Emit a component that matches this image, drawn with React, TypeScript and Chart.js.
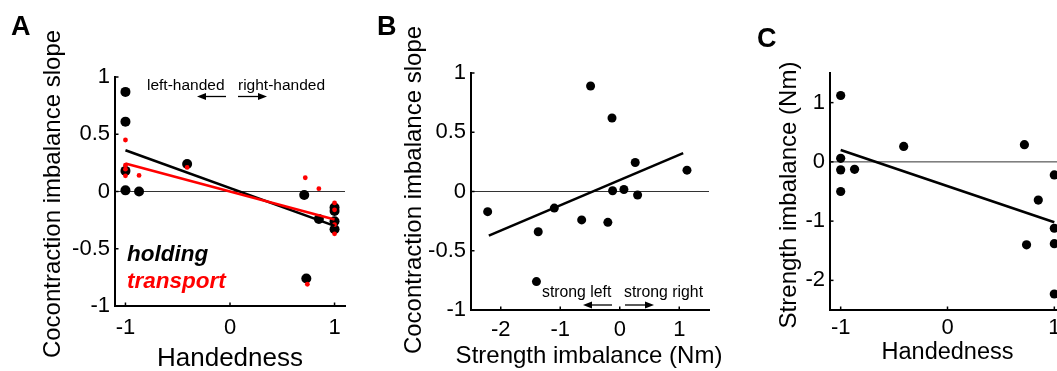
import { useEffect, useRef } from "react";
import { Chart, registerables } from "chart.js";

Chart.register(...registerables);

const FONT = "'Liberation Sans', Arial, Helvetica, sans-serif";
const CANVAS_W = 1100;
const CANVAS_H = 400;

// ---------------- Panel A: cocontraction imbalance slope vs handedness ----------------
const handHoldingA = [-1, -1, -1, -1, -0.87, -0.41, 0.71, 0.73, 0.85, 1, 1, 1, 1];
const slopeHoldingA = [0.87, 0.61, 0.18, 0.01, 0.0, 0.24, -0.03, -0.76, -0.24, -0.14, -0.17, -0.26, -0.33];
const handTransportA = [-1, -1, -1, -1, -0.87, -0.41, 0.72, 0.74, 0.85, 1, 1, 1, 1];
const slopeTransportA = [0.45, 0.23, 0.195, 0.137, 0.14, 0.21, 0.12, -0.81, 0.025, -0.1, -0.16, -0.29, -0.37];
const fitHoldingAx = [-1, 1];
const fitHoldingAy = [0.36, -0.3];
const fitTransportAx = [-1, 1];
const fitTransportAy = [0.244, -0.244];
const xLimA = [-1.1, 1.1];
const yLimA = [-1, 1];
const xTicksA = [-1, 0, 1];
const yTicksA = [-1, -0.5, 0, 0.5, 1];

// ---------------- Panel B: cocontraction imbalance slope vs strength imbalance ----------------
const strengthB = [-2.22, -1.37, -1.4, -1.1, -0.64, -0.49, -0.2, -0.13, -0.12, 0.07, 0.26, 0.3, 1.13];
const slopeB = [-0.17, -0.34, -0.76, -0.14, -0.24, 0.89, -0.26, 0.62, 0.006, 0.017, 0.245, -0.03, 0.18];
const fitBx = [-2.2, 1.066];
const fitBy = [-0.372, 0.324];
const xLimB = [-2.5, 1.5];
const yLimB = [-1, 1];
const xTicksB = [-2, -1, 0, 1];
const yTicksB = [-1, -0.5, 0, 0.5, 1];

// ---------------- Panel C: strength imbalance vs handedness ----------------
const handC = [-1, -1, -1, -1, -0.87, -0.41, 0.72, 0.74, 0.85, 1, 1, 1, 1];
const strengthC = [1.12, 0.06, -0.135, -0.5, -0.125, 0.26, 0.29, -1.4, -0.645, -0.22, -1.12, -1.38, -2.23];
const fitCx = [-1, 1];
const fitCy = [0.2, -1.02];
const xLimC = [-1.1, 1.1];
const yLimC = [-2.5, 1.5];
const xTicksC = [-1, 0, 1];
const yTicksC = [-2, -1, 0, 1];

const pts = (xs: number[], ys: number[]) => xs.map((x, i) => ({ x, y: ys[i] }));

type TextItem = {
  text: string;
  x: number;
  y: number;
  font: string;
  color?: string;
  align?: CanvasTextAlign;
  baseline?: CanvasTextBaseline;
  rotate?: boolean;
};
type Arrow = { x1: number; y1: number; x2: number; y2: number };

type PanelSpec = {
  area: { left: number; top: number; right: number; bottom: number };
  xLim: number[];
  yLim: number[];
  xTicks: number[];
  yTicks: number[];
  xTickPad: number;
  datasets: any[];
  texts: TextItem[];
  arrows: Arrow[];
};

function zeroLine(xLim: number[]) {
  return {
    data: pts(xLim, [0, 0]),
    showLine: true,
    borderColor: "#333333",
    borderWidth: 1,
    pointRadius: 0,
    order: 10,
  };
}
function dots(data: any[], color: string, r: number, order: number) {
  return {
    data,
    showLine: false,
    pointRadius: r,
    pointBackgroundColor: color,
    pointBorderWidth: 0,
    pointBorderColor: color,
    order,
  };
}
function fitLine(data: any[], color: string, order: number) {
  return {
    data,
    showLine: true,
    borderColor: color,
    borderWidth: 2.6,
    pointRadius: 0,
    order,
  };
}

const panelA: PanelSpec = {
  area: { left: 115, top: 77, right: 345, bottom: 306 },
  xLim: xLimA,
  yLim: yLimA,
  xTicks: xTicksA,
  yTicks: yTicksA,
  xTickPad: 9,
  datasets: [
    zeroLine(xLimA),
    dots(pts(handHoldingA, slopeHoldingA), "#000", 5, 4),
    dots(pts(handTransportA, slopeTransportA), "#ff0000", 2.4, 3),
    fitLine(pts(fitHoldingAx, fitHoldingAy), "#000", 2),
    fitLine(pts(fitTransportAx, fitTransportAy), "#ff0000", 1),
  ],
  texts: [
    { text: "A", x: 11, y: 35, font: `bold 27px ${FONT}` },
    { text: "Handedness", x: 230, y: 358.5, font: `26px ${FONT}`, align: "center", baseline: "middle" },
    { text: "Cocontraction imbalance slope", x: 53, y: 194, font: `24px ${FONT}`, align: "center", baseline: "middle", rotate: true },
    { text: "left-handed", x: 147, y: 90, font: `15.5px ${FONT}` },
    { text: "right-handed", x: 238, y: 90, font: `15.5px ${FONT}` },
    { text: "holding", x: 127, y: 261, font: `italic bold 22.5px ${FONT}` },
    { text: "transport", x: 127, y: 288, font: `italic bold 22.5px ${FONT}`, color: "#ff0000" },
  ],
  arrows: [
    { x1: 226, y1: 96.5, x2: 197, y2: 96.5 },
    { x1: 238, y1: 96.5, x2: 267, y2: 96.5 },
  ],
};

const panelB: PanelSpec = {
  area: { left: 471, top: 73, right: 709, bottom: 310 },
  xLim: xLimB,
  yLim: yLimB,
  xTicks: xTicksB,
  yTicks: yTicksB,
  xTickPad: 7,
  datasets: [
    zeroLine(xLimB),
    dots(pts(strengthB, slopeB), "#000", 4.5, 3),
    fitLine(pts(fitBx, fitBy), "#000", 1),
  ],
  texts: [
    { text: "B", x: 377, y: 35, font: `bold 27px ${FONT}` },
    { text: "Strength imbalance (Nm)", x: 589, y: 356, font: `24px ${FONT}`, align: "center", baseline: "middle" },
    { text: "Cocontraction imbalance slope", x: 414, y: 190, font: `24px ${FONT}`, align: "center", baseline: "middle", rotate: true },
    { text: "strong left", x: 542, y: 297, font: `15.8px ${FONT}` },
    { text: "strong right", x: 624, y: 297, font: `15.8px ${FONT}` },
  ],
  arrows: [
    { x1: 612, y1: 305, x2: 583, y2: 305 },
    { x1: 625, y1: 305, x2: 654, y2: 305 },
  ],
};

const panelC: PanelSpec = {
  area: { left: 830, top: 73, right: 1065, bottom: 310 },
  xLim: xLimC,
  yLim: yLimC,
  xTicks: xTicksC,
  yTicks: yTicksC,
  xTickPad: 5,
  datasets: [
    zeroLine(xLimC),
    dots(pts(handC, strengthC), "#000", 4.6, 3),
    fitLine(pts(fitCx, fitCy), "#000", 1),
  ],
  texts: [
    { text: "C", x: 757, y: 47, font: `bold 27px ${FONT}` },
    { text: "Handedness", x: 947.5, y: 353, font: `23.5px ${FONT}`, align: "center", baseline: "middle" },
    { text: "Strength imbalance (Nm)", x: 789, y: 195, font: `24px ${FONT}`, align: "center", baseline: "middle", rotate: true },
  ],
  arrows: [],
};

function decorPlugin(p: PanelSpec) {
  return {
    id: "decor",
    afterDraw(chart: any) {
      const { ctx, chartArea, scales } = chart;
      ctx.save();
      // inward tick marks
      ctx.strokeStyle = "#000";
      ctx.lineWidth = 1.5;
      scales.x.ticks.forEach((t: any) => {
        const px = scales.x.getPixelForValue(t.value);
        ctx.beginPath();
        ctx.moveTo(px, chartArea.bottom);
        ctx.lineTo(px, chartArea.bottom - 3.5);
        ctx.stroke();
      });
      scales.y.ticks.forEach((t: any) => {
        const py = scales.y.getPixelForValue(t.value);
        ctx.beginPath();
        ctx.moveTo(chartArea.left, py);
        ctx.lineTo(chartArea.left + 3.5, py);
        ctx.stroke();
      });
      // arrows
      ctx.fillStyle = "#000";
      ctx.lineWidth = 1.3;
      p.arrows.forEach((a) => {
        const ang = Math.atan2(a.y2 - a.y1, a.x2 - a.x1);
        const hl = 9;
        const hw = 3.6;
        const bx = a.x2 - hl * Math.cos(ang);
        const by = a.y2 - hl * Math.sin(ang);
        ctx.beginPath();
        ctx.moveTo(a.x1, a.y1);
        ctx.lineTo(bx, by);
        ctx.stroke();
        ctx.beginPath();
        ctx.moveTo(a.x2, a.y2);
        ctx.lineTo(bx - hw * Math.sin(ang), by + hw * Math.cos(ang));
        ctx.lineTo(bx + hw * Math.sin(ang), by - hw * Math.cos(ang));
        ctx.closePath();
        ctx.fill();
      });
      // texts
      p.texts.forEach((t) => {
        ctx.save();
        ctx.font = t.font;
        ctx.fillStyle = t.color || "#000";
        ctx.textAlign = t.align || "left";
        ctx.textBaseline = t.baseline || "alphabetic";
        if (t.rotate) {
          ctx.translate(t.x, t.y);
          ctx.rotate(-Math.PI / 2);
          ctx.fillText(t.text, 0, 0);
        } else {
          ctx.fillText(t.text, t.x, t.y);
        }
        ctx.restore();
      });
      ctx.restore();
    },
  };
}

function buildConfig(p: PanelSpec): any {
  const tickFont = { family: FONT, size: 22 };
  return {
    type: "scatter",
    data: { datasets: p.datasets },
    options: {
      animation: false,
      responsive: false,
      events: [],
      layout: { padding: { left: 0, top: p.area.top, right: CANVAS_W - p.area.right, bottom: 0 } },
      plugins: { legend: { display: false }, tooltip: { enabled: false }, title: { display: false } },
      scales: {
        x: {
          type: "linear",
          position: "bottom",
          min: p.xLim[0],
          max: p.xLim[1],
          afterFit: (s: any) => {
            s.height = CANVAS_H - p.area.bottom;
          },
          afterBuildTicks: (s: any) => {
            s.ticks = p.xTicks.map((v) => ({ value: v }));
          },
          grid: { display: false, drawTicks: false },
          border: { display: true, color: "#000", width: 2 },
          ticks: {
            font: tickFont,
            color: "#000",
            padding: p.xTickPad,
            maxRotation: 0,
            minRotation: 0,
            autoSkip: false,
            callback: (v: any) => String(v),
          },
        },
        y: {
          type: "linear",
          position: "left",
          min: p.yLim[0],
          max: p.yLim[1],
          afterFit: (s: any) => {
            s.width = p.area.left;
          },
          afterBuildTicks: (s: any) => {
            s.ticks = p.yTicks.map((v) => ({ value: v }));
          },
          grid: { display: false, drawTicks: false },
          border: { display: true, color: "#000", width: 2 },
          ticks: {
            font: tickFont,
            color: "#000",
            padding: 5,
            autoSkip: false,
            callback: (v: any) => String(v),
          },
        },
      },
    },
    plugins: [decorPlugin(p)],
  };
}

function PanelChart({ spec }: { spec: PanelSpec }) {
  const ref = useRef<HTMLCanvasElement | null>(null);
  useEffect(() => {
    if (!ref.current) return;
    const chart = new Chart(ref.current, buildConfig(spec));
    return () => chart.destroy();
  }, [spec]);
  return (
    <canvas
      ref={ref}
      width={CANVAS_W}
      height={CANVAS_H}
      style={{ position: "absolute", left: 0, top: 0, width: CANVAS_W, height: CANVAS_H }}
    />
  );
}

export default function App() {
  return (
    <div
      style={{
        position: "fixed",
        left: 0,
        top: 0,
        width: 1057,
        height: 371,
        overflow: "hidden",
        background: "#fff",
      }}
    >
      <PanelChart spec={panelA} />
      <PanelChart spec={panelB} />
      <PanelChart spec={panelC} />
    </div>
  );
}
